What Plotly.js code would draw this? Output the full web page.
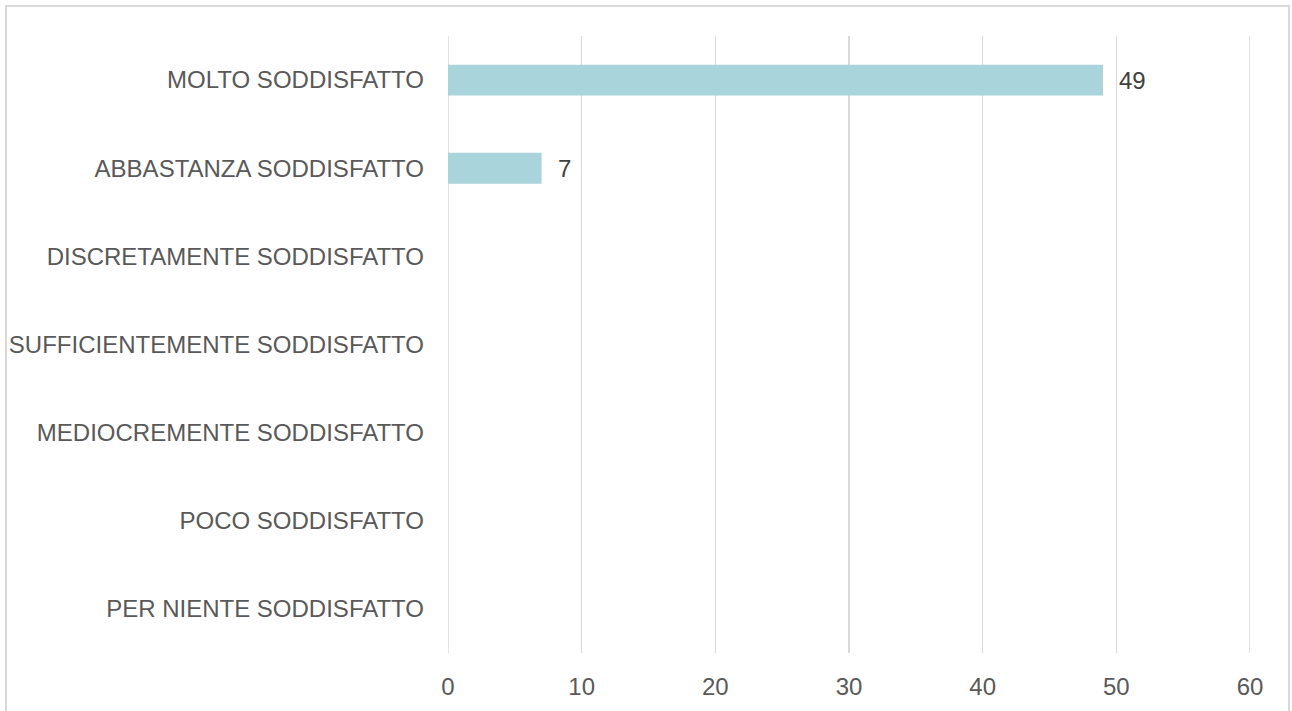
<!DOCTYPE html>
<html>
<head>
<meta charset="utf-8">
<script src="https://cdn.plot.ly/plotly-3.0.1.min.js"></script>
<style>
html,body{margin:0;padding:0;background:#fff;}
#wrap{position:relative;width:1292px;height:711px;overflow:hidden;}
#chart{position:absolute;left:0;top:0;width:1292px;height:711px;}
#frame{position:absolute;left:5px;top:5px;width:1285px;height:730px;border:2px solid #d9d9d9;box-sizing:border-box;pointer-events:none;}
</style>
</head>
<body>
<div id="wrap"><div id="chart"></div><div id="frame"></div></div>
<script>
const categories = [
  "MOLTO SODDISFATTO",
  "ABBASTANZA SODDISFATTO",
  "DISCRETAMENTE SODDISFATTO",
  "SUFFICIENTEMENTE SODDISFATTO",
  "MEDIOCREMENTE SODDISFATTO",
  "POCO SODDISFATTO",
  "PER NIENTE SODDISFATTO"
];
const values = [49, 7, null, null, null, null, null];
const labels = ["49", "7", "", "", "", "", ""];
const xTicks = [0, 10, 20, 30, 40, 50, 60];

const font = "'Liberation Sans', Arial, sans-serif";

const trace = {
  type: "bar",
  orientation: "h",
  y: categories,
  x: values,
  marker: {color: "#aad4dc"},
  width: 0.35,
  hoverinfo: "x+y"
};

const annotations = [];
values.forEach((v, i) => {
  if (v !== null && labels[i] !== "") {
    annotations.push({
      x: v, y: categories[i], xref: "x", yref: "y",
      text: labels[i], showarrow: false,
      xanchor: "left", yanchor: "middle", xshift: 14,
      font: {family: font, size: 24, color: "#404040"}
    });
  }
});

// edge gridlines (Plotly omits gridlines lying on the plot edges)
const shapes = [xTicks[0], xTicks[xTicks.length - 1]].map(t => ({
  type: "line", xref: "x", yref: "paper",
  x0: t, x1: t, y0: 0, y1: 1,
  line: {color: "#d9d9d9", width: 1.5},
  layer: "below"
}));

const layout = {
  width: 1292, height: 711,
  margin: {l: 447.5, r: 42.3, t: 36, b: 58, pad: 0},
  paper_bgcolor: "#ffffff",
  plot_bgcolor: "#ffffff",
  showlegend: false,
  font: {family: font, size: 24, color: "#595959"},
  annotations: annotations,
  shapes: shapes,
  xaxis: {
    range: [0, 60],
    tickvals: xTicks,
    ticktext: xTicks.map(String),
    showgrid: true,
    gridcolor: "#d9d9d9",
    gridwidth: 1.5,
    zeroline: false,
    showline: false,
    ticks: "",
    ticklabelstandoff: 17,
    tickfont: {family: font, size: 24, color: "#595959"},
    fixedrange: true
  },
  yaxis: {
    type: "category",
    categoryorder: "array",
    categoryarray: categories,
    autorange: "reversed",
    showgrid: false,
    zeroline: false,
    showline: false,
    ticks: "",
    ticklabelstandoff: 23,
    tickfont: {family: font, size: 24, color: "#595959"},
    fixedrange: true
  }
};

Plotly.newPlot("chart", [trace], layout, {displayModeBar: false, staticPlot: true});
</script>
</body>
</html>
